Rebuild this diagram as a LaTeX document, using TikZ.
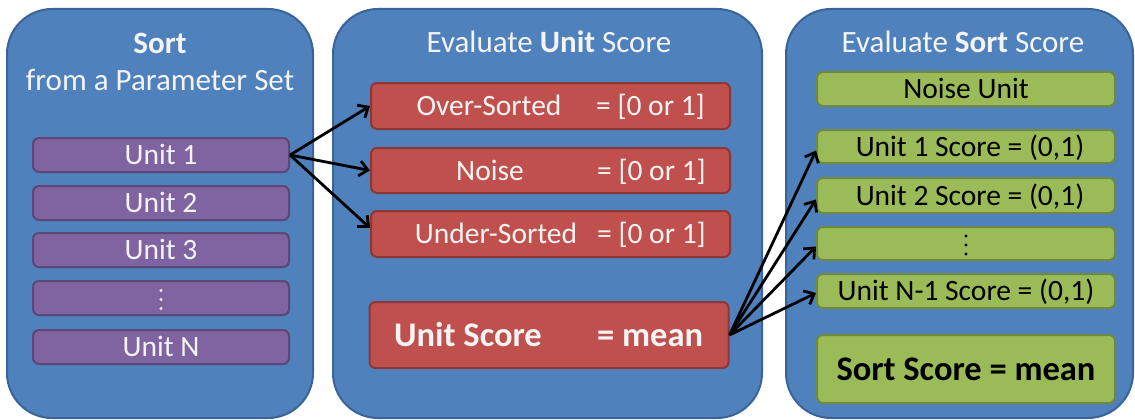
\documentclass[tikz,border=0pt]{standalone}
\usepackage{fontspec}
\setmainfont{Carlito}
\usetikzlibrary{arrows.meta}
\definecolor{panelfill}{HTML}{4F81BD}
\definecolor{panelline}{HTML}{3A639A}
\definecolor{unitfill}{HTML}{8064A2}
\definecolor{unitline}{HTML}{5C4776}
\definecolor{redfill}{HTML}{C0504D}
\definecolor{redline}{HTML}{8C3836}
\definecolor{greenfill}{HTML}{9BBB59}
\definecolor{greenline}{HTML}{71893E}
\definecolor{lighttext}{HTML}{F4F4F4}
\newcommand\sizetitle{\fontsize{31}{36}\selectfont}
\newcommand\sizeitem{\fontsize{29.5}{34}\selectfont}
\newcommand\sizebig{\fontsize{34.5}{40}\selectfont\bfseries}
\begin{document}
\begin{tikzpicture}[x=1pt,y=-1pt,
  panel/.style={draw=panelline, fill=panelfill, line width=2pt, rounded corners=45pt, inner sep=0pt},
  boxbase/.style={line width=2pt, rounded corners=6pt, inner sep=0pt, text height=19pt, text depth=0pt},
  unitbox/.style={boxbase, draw=unitline, fill=unitfill, text=lighttext, font=\sizeitem, minimum width=256pt, minimum height=34pt},
  redbox/.style={boxbase, draw=redline, fill=redfill, minimum width=359pt},
  greenbox/.style={boxbase, draw=greenline, fill=greenfill, text=black, font=\sizeitem, minimum width=298pt, minimum height=34pt},
  title/.style={text=lighttext, font=\sizetitle, anchor=base, inner sep=0pt},
  redtext/.style={text=lighttext, font=\sizeitem, inner sep=0pt, text height=19pt, text depth=0pt},
  bigred/.style={text=lighttext, font=\sizebig, inner sep=0pt, text height=22pt, text depth=0pt},
  dot/.style={radius=1.7pt},
  link/.style={line width=2.8pt, -{Straight Barb[length=8.5pt, width=15pt, line width=2.8pt]}},
]
\useasboundingbox (0,0) rectangle (1135,420);

% three panels
\node[panel, minimum width=306pt, minimum height=409pt] (sortpanel) at (160,213.5) {};
\node[panel, minimum width=429pt, minimum height=409pt] (unitpanel) at (547.5,213.5) {};
\node[panel, minimum width=347pt, minimum height=409pt] (scorepanel) at (959.5,213.5) {};

% panel headings
\node[title] (t1a) at (160,54) {\bfseries Sort};
\node[title] (t1b) at (160,91) {from a Parameter Set};
\node[title] (t2) at (549,53) {Evaluate \textbf{Unit} Score};
\node[title] (t3) at (963,53) {Evaluate \textbf{Sort} Score};

% units of the sort
\node[unitbox] (u1) at (161,155) {Unit 1};
\node[unitbox] (u2) at (161,203) {Unit 2};
\node[unitbox] (u3) at (161,250) {Unit 3};
\node[unitbox] (udots) at (161,298) {};
\node[unitbox] (un) at (161,347) {Unit N};
\fill[lighttext] ([yshift=7.5pt]udots.center) circle[dot]
                 ([yshift=-1.5pt]udots.center) circle[dot]
                 ([yshift=-10.5pt]udots.center) circle[dot];

% unit score components
\node[redbox, minimum height=46pt] (over) at (550.5,106) {};
\node[redbox, minimum height=45pt] (noise) at (550.5,170.5) {};
\node[redbox, minimum height=46pt] (under) at (550.5,234) {};
\node[redbox, minimum height=66pt] (uscore) at (549,335) {};

\node[redtext] (overl) at (489,106) {Over-Sorted};
\node[redtext, anchor=west] (overr) at (596,106) {= [0 or 1]};
\node[redtext] (noisel) at (490,170.5) {Noise};
\node[redtext, anchor=west] (noiser) at (597,170.5) {= [0 or 1]};
\node[redtext] (underl) at (496,234) {Under-Sorted};
\node[redtext, anchor=west] (underr) at (597,234) {= [0 or 1]};
\node[bigred] (uscorel) at (468,335) {Unit Score};
\node[bigred, anchor=west] (uscorer) at (597,335) {= mean};

% sort score components
\node[greenbox] (nunit) at (966,89) {Noise Unit};
\node[greenbox, minimum height=33pt] (s1) at (966,146.5) {\hspace{8pt}Unit 1 Score = (0,1)};
\node[greenbox, minimum height=35pt] (s2) at (966,195.5) {\hspace{8pt}Unit 2 Score = (0,1)};
\node[greenbox, minimum height=33pt] (sdots) at (966,243.5) {};
\node[greenbox] (sn) at (966,291) {Unit N-1 Score = (0,1)};
\node[greenbox, minimum height=68pt, font=\sizebig, text height=22pt] (sscore) at (966,369) {Sort Score = mean};
\fill[black] ([yshift=7.5pt]sdots.center) circle[dot]
             ([yshift=-1.5pt]sdots.center) circle[dot]
             ([yshift=-10.5pt]sdots.center) circle[dot];

% connectors
\draw[link] (u1.east) -- (over.west);
\draw[link] (u1.east) -- (noise.west);
\draw[link] (u1.east) -- ([yshift=6pt]under.west);
\draw[link] (uscore.east) -- ([yshift=-4pt]s1.west);
\draw[link] (uscore.east) -- ([yshift=-4pt]s2.west);
\draw[link] (uscore.east) -- ([yshift=-3pt]sdots.west);
\draw[link] (uscore.east) -- ([yshift=-2pt]sn.west);
\end{tikzpicture}
\end{document}
